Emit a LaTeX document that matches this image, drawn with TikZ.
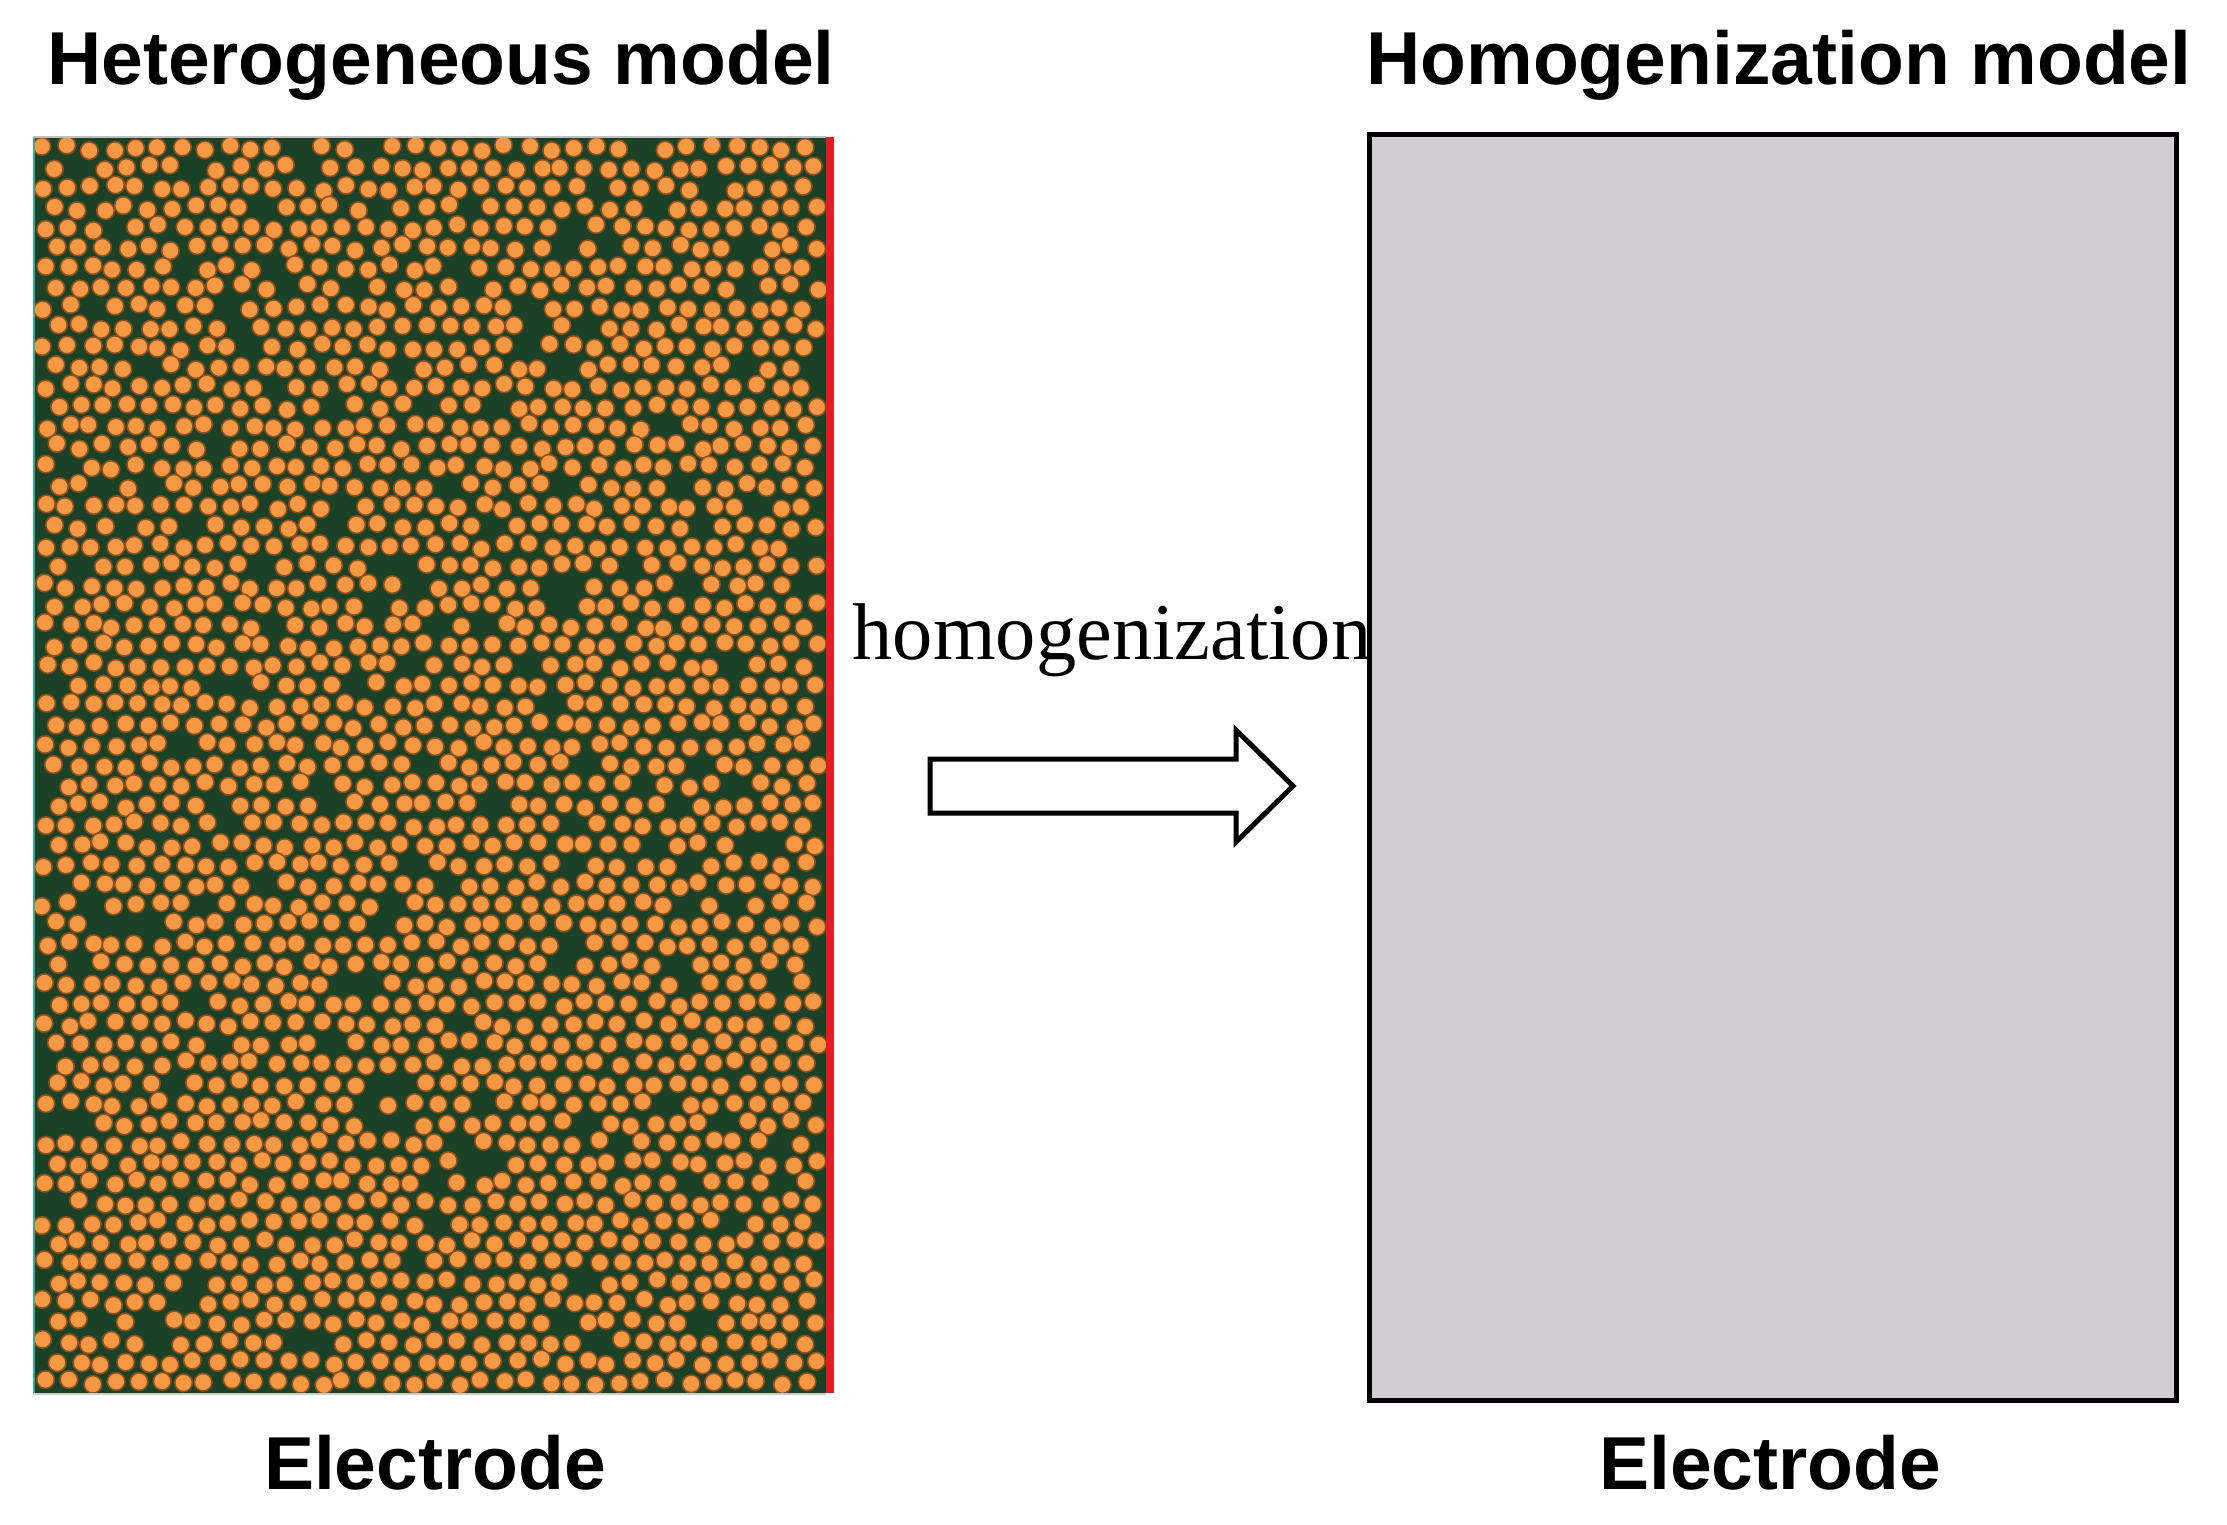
\documentclass[tikz,border=0pt]{standalone}
\usepackage{fontspec}
\setmainfont{Liberation Serif}
\setsansfont{Liberation Sans}
\definecolor{bggreen}{RGB}{27,66,38}
\definecolor{partorange}{RGB}{245,152,68}
\definecolor{partrim}{RGB}{140,80,32}
\definecolor{edgered}{RGB}{225,30,35}
\definecolor{edgeteal}{RGB}{60,170,140}
\definecolor{homgray}{RGB}{208,206,208}
\begin{document}
\begin{tikzpicture}[x=1pt,y=-1pt,
  title/.style={anchor=base,inner sep=0pt,font=\fontsize{75}{90}\selectfont\sffamily\bfseries},
  label/.style={anchor=base,inner sep=0pt,font=\fontsize{80.5}{96}\selectfont\rmfamily},
  particle/.style={fill=partorange,draw=partrim,line width=1.6pt},
  blockarrow/.style={draw=black,fill=white,line width=5pt,line join=miter}]
\useasboundingbox (0,0) rectangle (2227,1525);
% heterogeneous panel
\fill[bggreen] (33,137) rectangle (832,1393);
\begin{scope}
\clip (33,137) rectangle (828,1393);
\pgfmathsetseed{23}
\foreach \i in {0,...,62}{
  \foreach \j in {0,...,33}{
    \pgfmathsetmacro\px{45+\j*23+mod(\i,2)*11.5+rand*3.2}
    \pgfmathsetmacro\py{148+\i*19.9+rand*3.2}
    \pgfmathtruncatemacro\keep{rnd>0.08}
    \ifnum\keep>0
      \filldraw[particle] (\px,\py) circle[radius=8.8];
    \fi
  }
}
\end{scope}
\fill[edgered] (826,137) rectangle (834,1393);
\draw[edgeteal,line width=2.5pt] (34,137) -- (34,1393);
\draw[gray!50,line width=1.5pt] (33,137) -- (826,137);
\draw[gray!40,line width=2pt] (33,1394) -- (826,1394);
% homogenization panel
\draw[fill=homgray,line width=5pt] (1369,135) rectangle (2176,1400);
% titles
\node[title] (t1) at (441,85) {Heterogeneous model};
\node[title] (t2) at (1779,85) {Homogenization model};
\node[title] (e1) at (435,1489) {Electrode};
\node[title] (e2) at (1770,1489) {Electrode};
\node[label] (h) at (1112,659) {homogenization};
% block arrow
\coordinate (a1) at (930,759);
\coordinate (a2) at (1236,759);
\coordinate (a3) at (1236,730);
\coordinate (tip) at (1293,786);
\coordinate (a5) at (1236,842);
\coordinate (a6) at (1236,813);
\coordinate (a7) at (930,813);
\draw[blockarrow] (a1) -- (a2) -- (a3) -- (tip) -- (a5) -- (a6) -- (a7) -- cycle;
\end{tikzpicture}
\end{document}
